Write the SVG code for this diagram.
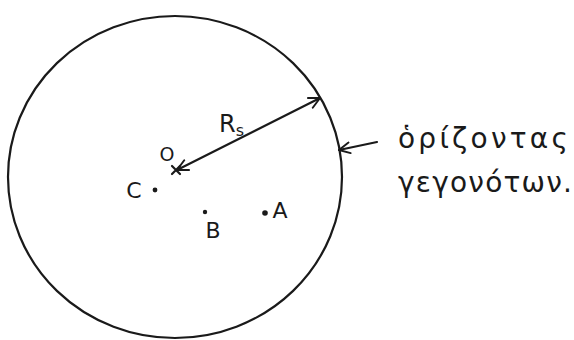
<svg xmlns="http://www.w3.org/2000/svg" width="574" height="340" viewBox="0 0 574 340">
<style>
.ln{fill:none;stroke:#1a1a1a;stroke-width:2.2;stroke-linecap:round;stroke-linejoin:round}
.t{font-family:"DejaVu Sans","Noto Sans",sans-serif;fill:#1a1a1a}
.dot{fill:#1a1a1a}
</style>
<defs>
<marker id="ah" viewBox="0 0 12 12" refX="11" refY="6" markerWidth="13" markerHeight="13" markerUnits="userSpaceOnUse" orient="auto-start-reverse">
<path d="M1,1 L11,6 L1,11" fill="none" stroke="#1a1a1a" stroke-width="1.8" stroke-linecap="round" stroke-linejoin="round"/>
</marker>
</defs>
<rect width="574" height="340" fill="#fff"/>
<g id="horizon">
<ellipse class="ln" cx="175" cy="177" rx="167" ry="161"/>
</g>
<g id="O">
<text class="t" x="167" y="161" font-size="19" text-anchor="middle">O</text>
<path class="ln" d="M172,166 L180,174 M180,166 L172,174" stroke-width="1.6"/>
</g>
<g id="C">
<text class="t" x="134" y="198" font-size="22" text-anchor="middle">C</text>
<circle class="dot" cx="155" cy="190" r="2.4"/>
</g>
<g id="B">
<circle class="dot" cx="205" cy="212" r="2.2"/>
<text class="t" x="213" y="238" font-size="22" text-anchor="middle">B</text>
</g>
<g id="A">
<circle class="dot" cx="265" cy="213" r="2.8"/>
<text class="t" x="280" y="218" font-size="22" text-anchor="middle">A</text>
</g>
<g id="Rs">
<text class="t" x="219" y="132" font-size="24">R<tspan font-size="16" dy="4">s</tspan></text>
</g>
<g id="label">
<text class="t" x="398" y="148" font-size="28" textLength="170" lengthAdjust="spacing">ὁρίζοντας</text>
<text class="t" x="398" y="192" font-size="28" textLength="174" lengthAdjust="spacing">γεγονότων.</text>
</g>
<g id="connectors">
<line class="ln" x1="177" y1="170" x2="320" y2="98" marker-start="url(#ah)" marker-end="url(#ah)"/>
<line class="ln" x1="377" y1="142" x2="339" y2="150" marker-end="url(#ah)"/>
</g>
</svg>
